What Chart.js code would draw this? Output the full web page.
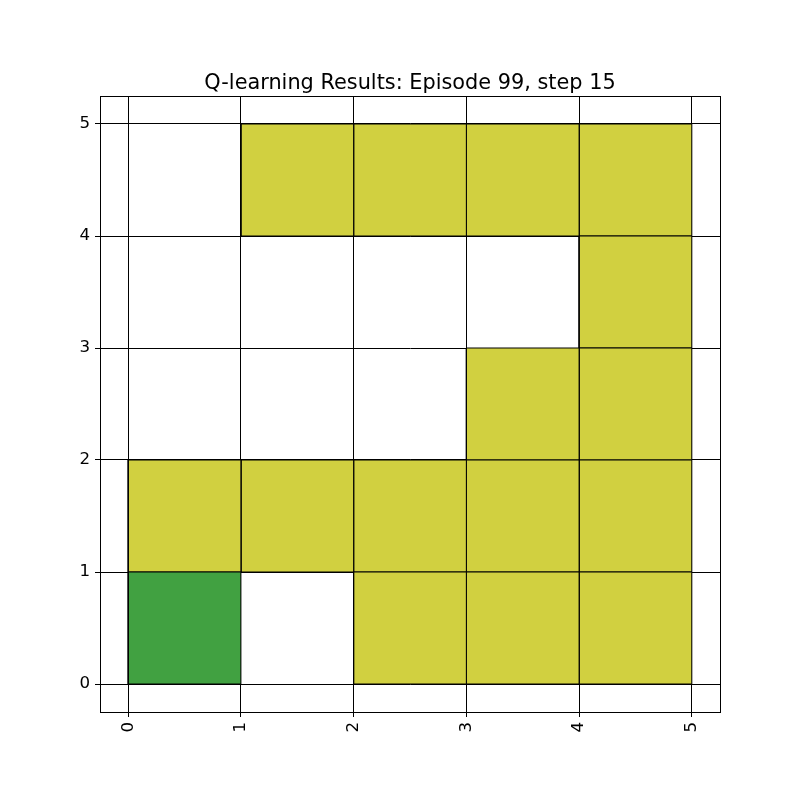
<!DOCTYPE html>
<html>
<head>
<meta charset="utf-8">
<script src="https://cdn.jsdelivr.net/npm/chart.js@4/dist/chart.umd.min.js"></script>
<style>
  html, body { margin: 0; padding: 0; background: #fff; }
  #wrap { width: 800px; height: 800px; }
</style>
</head>
<body>
<div id="wrap"><canvas id="c" width="800" height="800"></canvas></div>
<script>
// ---- data ----
const titleText = 'Q-learning Results: Episode 99, step 15';
const xTickValues = [0, 1, 2, 3, 4, 5];
const yTickValues = [0, 1, 2, 3, 4, 5];
// cell state per row (row index = y of bottom edge); 0 = empty, 1 = visited, 2 = agent
const row0 = [2, 0, 1, 1, 1];
const row1 = [1, 1, 1, 1, 1];
const row2 = [0, 0, 0, 1, 1];
const row3 = [0, 0, 0, 0, 1];
const row4 = [0, 1, 1, 1, 1];
const gridRows = [row0, row1, row2, row3, row4];
const stateColors = { 1: '#d1d040', 2: '#41a141' };

// ---- build one closed polygon dataset per coloured cell ----
const datasets = [];
gridRows.forEach((row, r) => {
  row.forEach((state, c) => {
    if (!state) return;
    datasets.push({
      data: [
        { x: c, y: r }, { x: c + 1, y: r }, { x: c + 1, y: r + 1 },
        { x: c, y: r + 1 }, { x: c, y: r }
      ],
      showLine: true,
      fill: 'shape',
      backgroundColor: stateColors[state],
      borderColor: '#000',
      borderWidth: 1,
      pointRadius: 0,
      pointHoverRadius: 0,
      tension: 0
    });
  });
});

const frame = {
  id: 'frame',
  afterDraw(chart) {
    const { ctx, chartArea: a } = chart;
    ctx.save();
    ctx.strokeStyle = '#000';
    ctx.lineWidth = 1;
    ctx.strokeRect(Math.round(a.left) + 0.5, Math.round(a.top) + 0.5,
      Math.round(a.right - a.left), Math.round(a.bottom - a.top));
    ctx.restore();
  }
};

const tickFont = { family: 'DejaVu Sans', size: 16.67 };

new Chart(document.getElementById('c'), {
  type: 'scatter',
  data: { datasets },
  plugins: [frame],
  options: {
    responsive: false,
    animation: false,
    devicePixelRatio: 1,
    layout: { padding: { left: 20, right: 0, top: 0, bottom: 0 } },
    plugins: {
      legend: { display: false },
      tooltip: { enabled: false },
      title: {
        display: true,
        text: titleText,
        color: '#000',
        font: { family: 'DejaVu Sans', size: 20.83, weight: 'normal', lineHeight: '25px' },
        padding: { top: 71, bottom: 0 }
      }
    },
    scales: {
      x: {
        type: 'linear',
        min: -0.25,
        max: 5.25,
        afterBuildTicks: s => { s.ticks = xTickValues.map(v => ({ value: v })); },
        afterFit: s => { s.height = 88; },
        ticks: {
          color: '#000',
          font: tickFont,
          padding: 5,
          minRotation: 90,
          maxRotation: 90,
          autoSkip: false,
          callback: v => String(v)
        },
        grid: { color: '#000', lineWidth: 1, tickLength: 5, drawTicks: true },
        border: { display: true, color: '#000', width: 1 }
      },
      y: {
        type: 'linear',
        min: -0.25,
        max: 5.25,
        afterBuildTicks: s => { s.ticks = yTickValues.map(v => ({ value: v })); },
        afterFit: s => { s.width = 80; },
        ticks: {
          color: '#000',
          font: tickFont,
          padding: 5,
          autoSkip: false,
          callback: v => String(v)
        },
        grid: { color: '#000', lineWidth: 1, tickLength: 5, drawTicks: true },
        border: { display: true, color: '#000', width: 1 }
      },
      yRight: {
        type: 'linear',
        position: 'right',
        min: -0.25,
        max: 5.25,
        afterFit: s => { s.width = 80; },
        ticks: { display: false },
        grid: { display: false, drawTicks: false },
        border: { display: false }
      }
    }
  }
});
</script>
</body>
</html>
